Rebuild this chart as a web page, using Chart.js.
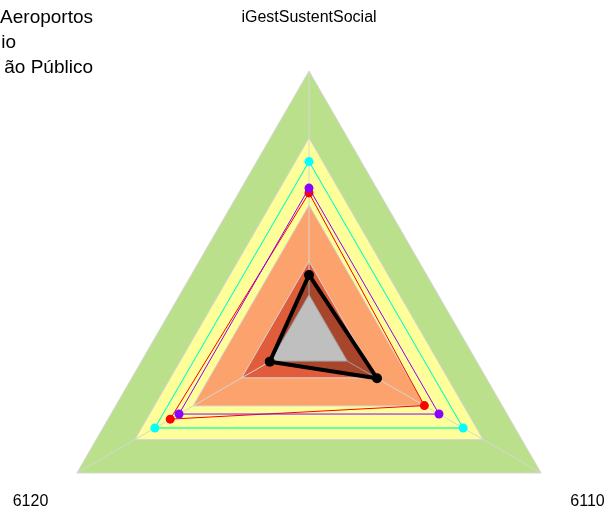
<!DOCTYPE html>
<html>
<head>
<meta charset="utf-8">
<title>Radar</title>
<script src="https://cdn.jsdelivr.net/npm/chart.js@4/dist/chart.umd.min.js"></script>
<style>
  html, body { margin: 0; padding: 0; background: #fff; overflow: hidden; }
  #radar { display: block; }
</style>
</head>
<body>
<canvas id="radar" width="609" height="620"></canvas>
<script>
// axes, clockwise from the top
const axisLabels = ['iGestSustentSocial', '6110', '6120'];

// legend entries (left part runs off the page)
const legendLabels = ['Aeroportos', 'io', 'ão Público'];

// background bands, outer to inner
const bandLevels = [1.0, 0.75, 0.5, 0.29, 0.165];
const bandColors = ['#BBE08C', '#FFFF99', '#FCA26C', '#E05C3A', '#FFFFFF'];

// series
const seriesBlack  = [0.239, 0.293, 0.169];
const seriesCyan   = [0.662, 0.664, 0.664];
const seriesLime   = [0.662, 0.664, 0.664];
const seriesPurple = [0.563, 0.560, 0.560];
const seriesRed    = [0.545, 0.497, 0.598];

const gridColor = '#D6D6D6';
const labelFont = '16px "Liberation Sans", Arial, sans-serif';
const legendFont = '19px "Liberation Sans", Arial, sans-serif';

function lineSeries(values, color, width, radius) {
  return {
    data: values,
    borderColor: color,
    borderWidth: width,
    pointBackgroundColor: color,
    pointBorderColor: color,
    pointBorderWidth: 0,
    pointRadius: radius,
    fill: false
  };
}

function bandSeries(level, color) {
  return {
    data: axisLabels.map(() => level),
    borderColor: gridColor,
    borderWidth: 1,
    backgroundColor: color,
    pointRadius: 0,
    fill: 'origin'
  };
}

// datasets are painted last-to-first, so bands go at the end (outermost last)
const datasets = [
  Object.assign(lineSeries(seriesBlack, '#000000', 4, 5), { fill: 'origin', backgroundColor: 'rgba(0,0,0,0.25)' }),
  lineSeries(seriesCyan, '#00FFFF', 1, 4.5),
  lineSeries(seriesLime, '#80FF00', 1, 0),
  lineSeries(seriesPurple, '#8B00FF', 1, 4.5),
  lineSeries(seriesRed, '#FF0000', 1, 4.5)
];
const firstBandIndex = datasets.length;
const innerColors = bandColors.slice().reverse();
bandLevels.slice().reverse().forEach((lvl, i) => {
  datasets.push(bandSeries(lvl, innerColors[i]));
});

// spokes on top of the bands (outside the innermost one), under the series
const spokesPlugin = {
  id: 'spokes',
  afterDatasetDraw(chart, args) {
    if (args.index !== firstBandIndex) return;
    const scale = chart.scales.r;
    const ctx = chart.ctx;
    const inner = scale.getDistanceFromCenterForValue(bandLevels[bandLevels.length - 1]);
    ctx.save();
    ctx.strokeStyle = gridColor;
    ctx.lineWidth = 1;
    for (let i = 0; i < axisLabels.length; i++) {
      const a = scale.getPointPosition(i, inner);
      const b = scale.getPointPosition(i, scale.drawingArea);
      ctx.beginPath();
      ctx.moveTo(a.x, a.y);
      ctx.lineTo(b.x, b.y);
      ctx.stroke();
    }
    ctx.restore();
  }
};

// axis names sit further out than the built-in point labels
const axisNamePlugin = {
  id: 'axisNames',
  afterDraw(chart) {
    const scale = chart.scales.r;
    const ctx = chart.ctx;
    ctx.save();
    ctx.font = labelFont;
    ctx.fillStyle = '#000';
    ctx.textAlign = 'center';
    ctx.textBaseline = 'middle';
    axisLabels.forEach((name, i) => {
      const p = scale.getPointPosition(i, scale.drawingArea * 1.2);
      ctx.fillText(name, p.x, p.y + (i === 0 ? 0 : 2));
    });
    ctx.restore();
  }
};

const legendPlugin = {
  id: 'cornerLegend',
  afterDraw(chart) {
    const ctx = chart.ctx;
    const rights = [93, 16, 93];
    ctx.save();
    ctx.font = legendFont;
    ctx.fillStyle = '#000';
    ctx.textAlign = 'right';
    ctx.textBaseline = 'alphabetic';
    legendLabels.forEach((txt, i) => {
      ctx.fillText(txt, rights[i], 23 + i * 25);
    });
    ctx.restore();
  }
};

new Chart(document.getElementById('radar'), {
  type: 'radar',
  data: { labels: axisLabels, datasets: datasets },
  options: {
    responsive: false,
    animation: false,
    layout: { padding: { left: 41, right: 32, top: 71, bottom: 13 } },
    elements: { line: { tension: 0 } },
    plugins: {
      legend: { display: false },
      tooltip: { enabled: false }
    },
    scales: {
      r: {
        min: 0,
        max: 1,
        ticks: { display: false },
        grid: { display: false },
        angleLines: { display: false },
        pointLabels: { display: false }
      }
    }
  },
  plugins: [spokesPlugin, axisNamePlugin, legendPlugin]
});
</script>
</body>
</html>
